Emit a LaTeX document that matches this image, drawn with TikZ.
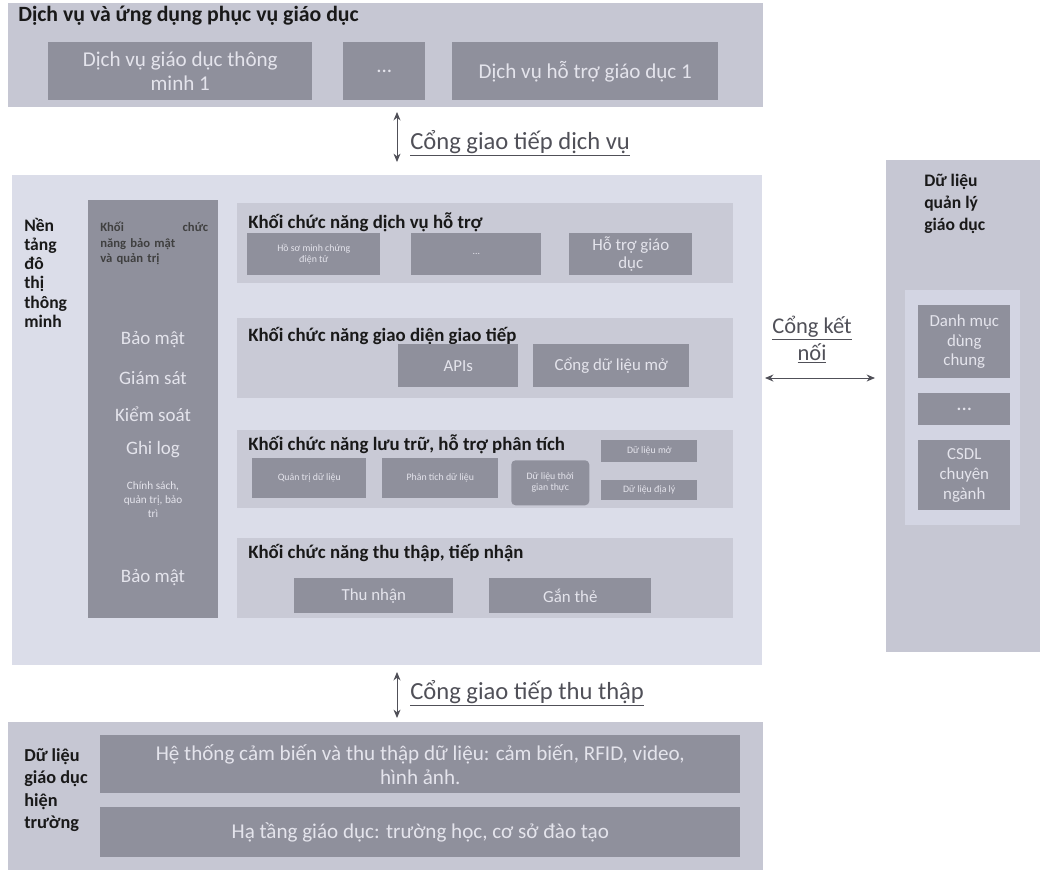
\documentclass[tikz,border=0pt]{standalone}
\usepackage{fontspec}
\setmainfont{Carlito}
\usetikzlibrary{arrows.meta, positioning}
\definecolor{outerc}{RGB}{198,199,211}
\definecolor{mainc}{RGB}{219,221,233}
\definecolor{panelc}{RGB}{201,202,214}
\definecolor{darkc}{RGB}{143,144,156}
\definecolor{innerc}{RGB}{211,213,227}
\definecolor{lightc}{RGB}{228,228,236}
\definecolor{gatec}{RGB}{80,80,88}

\begin{document}
\begin{tikzpicture}[
    outer/.style={fill=outerc, anchor=north west, inner sep=0pt},
    panel/.style={fill=panelc, anchor=north west, inner sep=0pt},
    dbox/.style={fill=darkc, text=lightc, anchor=north west, align=center,
        inner sep=2pt, font=\fontsize{15}{17}\selectfont},
    tinybox/.style={dbox, font=\fontsize{7}{8}\selectfont},
    ttl/.style={font=\fontsize{13.4}{15}\selectfont\bfseries, text=black!90,
        inner sep=0pt, align=left},
    secitem/.style={text=lightc, font=\fontsize{13.5}{15}\selectfont, align=center},
    gate/.style={{Stealth[length=6pt,width=5pt]}-{Stealth[length=6pt,width=5pt]},
        draw=gatec, semithick},
    glabel/.style={text=gatec, font=\fontsize{17.5}{19}\selectfont, inner sep=0pt}]

    \fill[white] (0,0) rectangle (26.125,-21.75);
    \useasboundingbox (0,0) rectangle (26.125,-21.75);

    % services
    \node[outer, minimum width=18.875cm, minimum height=2.6cm] (svc) at (0.2,-0.075) {};
    \node[ttl, anchor=west, font=\fontsize{15.5}{17}\selectfont\bfseries] (svcT)
        at ([xshift=0.25cm,yshift=-0.32cm]svc.north west) {Dịch vụ và ứng dụng phục vụ giáo dục};
    \node[dbox, minimum width=6.6cm, minimum height=1.45cm] (svc1) at (1.2,-1.05)
        {Dịch vụ giáo dục thông\\minh 1};
    \node[dbox, minimum width=2.05cm, minimum height=1.45cm] (svc2) at (8.575,-1.05) {...};
    \node[dbox, minimum width=6.65cm, minimum height=1.45cm] (svc3) at (11.3,-1.05)
        {Dịch vụ hỗ trợ giáo dục 1};

    % platform
    \node[outer, fill=mainc, minimum width=18.75cm, minimum height=12.25cm] (urb) at (0.3,-4.375) {};
    \node[ttl, anchor=north west, font=\fontsize{12.5}{13.6}\selectfont\bfseries] (urbT)
        at (0.6,-5.45) {Nền\\tảng\\đô\\thị\\thông\\minh};

    \node[outer, fill=darkc, minimum width=3.25cm, minimum height=10.45cm] (sec) at (2.2,-5.0) {};
    \node[ttl, anchor=north west, text width=2.7cm, text=black!75,
        font=\fontsize{9}{11}\selectfont\bfseries] (secT)
        at ([xshift=0.3cm,yshift=-0.55cm]sec.north west) {Khối\hfill chức\\năng bảo mật\\và quản trị};
    \node[secitem] (sec1) at (3.825,-8.5) {Bảo mật};
    \node[secitem] (sec2) at (3.825,-9.45) {Giám sát};
    \node[secitem] (sec3) at (3.825,-10.35) {Kiểm soát};
    \node[secitem] (sec4) at (3.825,-11.25) {Ghi log};
    \node[secitem, font=\fontsize{8}{10}\selectfont] (sec5) at (3.825,-12.5)
        {Chính sách,\\quản trị, bảo\\trì};
    \node[secitem] (sec6) at (3.825,-14.45) {Bảo mật};

    \node[panel, minimum width=12.4cm, minimum height=2.0cm] (pSup) at (5.925,-5.075) {};
    \node[ttl, anchor=west] (pSupT) at ([xshift=0.275cm,yshift=-0.475cm]pSup.north west)
        {Khối chức năng dịch vụ hỗ trợ};
    \node[tinybox, minimum width=3.325cm, minimum height=1.05cm] (sup1) at (6.175,-5.825)
        {Hồ sơ minh chứng\\điện tử};
    \node[tinybox, minimum width=3.25cm, minimum height=1.05cm] (sup2) at (10.275,-5.825) {...};
    \node[dbox, minimum width=3.075cm, minimum height=1.05cm, font=\fontsize{12}{13}\selectfont]
        (sup3) at (14.225,-5.825) {Hỗ trợ giáo\\dục};

    \node[panel, minimum width=12.4cm, minimum height=2.0cm] (pIfc) at (5.925,-7.95) {};
    \node[ttl, anchor=west] (pIfcT) at ([xshift=0.275cm,yshift=-0.45cm]pIfc.north west)
        {Khối chức năng giao diện giao tiếp};
    \node[dbox, minimum width=3.0cm, minimum height=1.075cm, font=\fontsize{12}{14}\selectfont]
        (api) at (9.95,-8.6) {APIs};
    \node[dbox, minimum width=3.9cm, minimum height=1.075cm, font=\fontsize{12}{14}\selectfont]
        (open) at (13.325,-8.6) {Cổng dữ liệu mở};

    \node[panel, minimum width=12.4cm, minimum height=1.95cm] (pSto) at (5.925,-10.75) {};
    \node[ttl, anchor=west] (pStoT) at ([xshift=0.275cm,yshift=-0.35cm]pSto.north west)
        {Khối chức năng lưu trữ, hỗ trợ phân tích};
    \node[tinybox, minimum width=2.85cm, minimum height=1.0cm] (sto1) at (6.3,-11.45) {Quản trị dữ liệu};
    \node[tinybox, minimum width=2.9cm, minimum height=1.0cm] (sto2) at (9.55,-11.45) {Phân tích dữ liệu};
    \node[tinybox, rounded corners=3pt, minimum width=1.95cm, minimum height=1.125cm] (sto3)
        at (12.775,-11.5) {Dữ liệu thời\\gian thực};
    \node[tinybox, minimum width=2.4cm, minimum height=0.55cm] (sto4) at (15.025,-11.0) {Dữ liệu mở};
    \node[tinybox, minimum width=2.4cm, minimum height=0.5cm] (sto5) at (15.025,-12.0) {Dữ liệu địa lý};

    \node[panel, minimum width=12.4cm, minimum height=2.0cm] (pCol) at (5.925,-13.45) {};
    \node[ttl, anchor=west] (pColT) at ([xshift=0.275cm,yshift=-0.375cm]pCol.north west)
        {Khối chức năng thu thập, tiếp nhận};
    \node[dbox, minimum width=3.975cm, minimum height=0.875cm, font=\fontsize{12}{14}\selectfont]
        (col1) at (7.35,-14.45) {Thu nhận};
    \node[dbox, minimum width=4.05cm, minimum height=0.875cm, font=\fontsize{12}{14}\selectfont]
        (col2) at (12.225,-14.45) {Gắn thẻ};

    % management data
    \node[outer, minimum width=3.85cm, minimum height=12.3cm] (mgt) at (22.15,-4.0) {};
    \node[ttl, anchor=north west, font=\fontsize{12.5}{15.6}\selectfont\bfseries] (mgtT)
        at (23.1,-4.35) {Dữ liệu\\quản lý\\giáo dục};
    \node[outer, fill=innerc, minimum width=2.875cm, minimum height=5.875cm] (mgtIn) at (22.625,-7.25) {};
    \node[dbox, minimum width=2.3cm, minimum height=1.825cm, font=\fontsize{12}{14}\selectfont]
        (mgt1) at (22.95,-7.625) {Danh mục\\dùng\\chung};
    \node[dbox, minimum width=2.3cm, minimum height=0.8cm] (mgt2) at (22.95,-9.825) {...};
    \node[dbox, minimum width=2.3cm, minimum height=1.75cm, font=\fontsize{12}{14}\selectfont]
        (mgt3) at (22.95,-11.0) {CSDL\\chuyên\\ngành};

    % field data
    \node[outer, minimum width=18.875cm, minimum height=3.7cm] (fld) at (0.2,-18.05) {};
    \node[ttl, anchor=north west, font=\fontsize{13}{16}\selectfont\bfseries] (fldT)
        at (0.6,-18.7) {Dữ liệu\\giáo dục\\hiện\\trường};
    \node[dbox, minimum width=16.0cm, minimum height=1.45cm] (fld1) at (2.5,-18.375)
        {Hệ thống cảm biến và thu thập dữ liệu: cảm biến, RFID, video,\\hình ảnh.};
    \node[dbox, minimum width=16.0cm, minimum height=1.25cm] (fld2) at (2.5,-20.175)
        {Hạ tầng giáo dục: trường học, cơ sở đào tạo};

    % gateways
    \coordinate (g1a) at (9.925,-2.8);
    \coordinate (g1b) at (9.925,-4.05);
    \draw[gate] (g1a) -- (g1b);
    \node[glabel, anchor=west] (g1T) at (10.25,-3.575) {\underline{Cổng giao tiếp dịch vụ}};

    \coordinate (g2a) at (9.925,-16.8);
    \coordinate (g2b) at (9.925,-17.95);
    \draw[gate] (g2a) -- (g2b);
    \node[glabel, anchor=west] (g2T) at (10.25,-17.325) {\underline{Cổng giao tiếp thu thập}};

    \coordinate (g3a) at (19.125,-9.45);
    \coordinate (g3b) at (21.875,-9.45);
    \draw[gate] (g3a) -- (g3b);
    \node[glabel, align=center, font=\fontsize{16}{19}\selectfont] (g3T) at (20.3,-8.5)
        {\underline{Cổng kết}\\\underline{nối}};

\end{tikzpicture}
\end{document}
